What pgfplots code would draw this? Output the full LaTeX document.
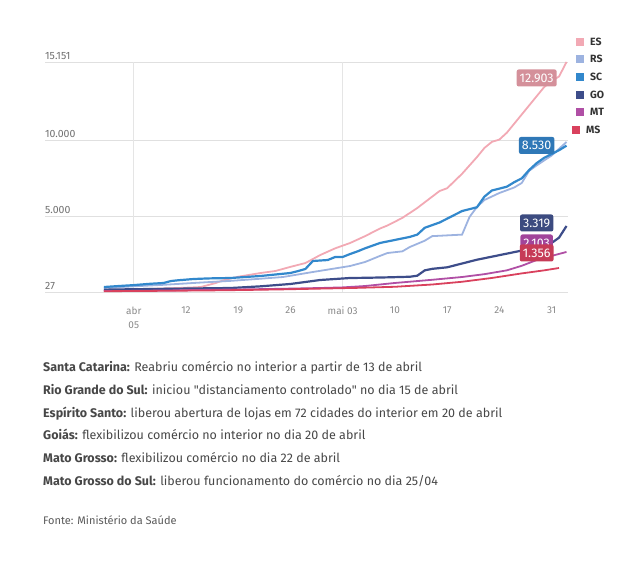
\documentclass[border=0pt]{standalone}
\usepackage{fontspec}
\setmainfont{Fira Sans}[Ligatures=TeXOff]
\usepackage{pgfplots}
\pgfplotsset{compat=1.18}
\definecolor{cES}{HTML}{F2A9B4}
\definecolor{cRS}{HTML}{9DB3E0}
\definecolor{cSC}{HTML}{3288CC}
\definecolor{cGO}{HTML}{3D4D8A}
\definecolor{cMT}{HTML}{B04FA5}
\definecolor{cMS}{HTML}{D9415D}
\definecolor{lES}{HTML}{D4909A}
\definecolor{lSC}{HTML}{2F78B7}
\definecolor{lGO}{HTML}{3C4B80}
\definecolor{lMT}{HTML}{A1449A}
\definecolor{lMS}{HTML}{C63B57}
\definecolor{txt}{HTML}{333333}
\definecolor{tick}{HTML}{8A8A8A}
\begin{document}
\begin{tikzpicture}
\path[use as bounding box] (0,0) rectangle (640pt,565pt);
\begin{axis}[
  at={(45pt,273pt)}, anchor=south west,
  scale only axis, width=523pt, height=230pt,
  xmin=-11.9, xmax=58.2, ymin=27, ymax=15151,
  axis line style={draw=none},
  major tick length=0pt,
  clip=false,
  scaled y ticks=false,
  ytick={27,5000,10000,15151},
  yticklabels={27,5.000,10.000,15.151},
  yticklabel style={anchor=south west, inner xsep=0pt, inner ysep=2.5pt, font=\fontsize{10.5}{12}\selectfont, text=tick!80!black},
  ymajorgrids,
  grid style={color=black!12, line width=0.8pt},
  xtick={0,7,14,21,28,35,42,49,56},
  xticklabels={{abr\\05},12,19,26,mai 03,10,17,24,31},
  xticklabel style={align=center, anchor=north, yshift=-11pt, font=\fontsize{10}{14}\selectfont, text=tick},
  extra x ticks={0,28},
  extra x tick labels={},
  extra x tick style={xmajorgrids=true, grid style={color=black!10, line width=0.8pt}},
]
% ES
\addplot[cES, line width=1.8pt] coordinates {
(-4,150) (-2,170) (0,200) (2,230) (4,260) (6,290) (8,330) (9,355) (11,620) (12,800) (14,1030) (17,1276) (19,1410) (21,1680) (23,1930) (25,2460) (27,2900) (29,3250) (31,3700) (33,4200) (34,4400) (36,4900) (38,5550) (40,6300) (41,6670) (42,6850) (44,7800) (46,8900) (47,9500) (48,9900) (49,10050) (50,10500) (51,11100) (52,11700) (53,12300) (54,12900) (55,13500) (56,13900) (57,14200) (58,15151)
};
% RS
\addplot[cRS, line width=1.8pt] coordinates {
(-4,290) (0,400) (4,500) (8,620) (13,760) (17,900) (20,1013) (24,1342) (29,1737) (31,2000) (33,2400) (34,2590) (36,2700) (37,2986) (39,3400) (40,3700) (43,3775) (44,3800) (45,4960) (46,5617) (47,6077) (49,6537) (51,6900) (52,7195) (53,8000) (54,8350) (56,9000) (58,9890)
};
% SC
\addplot[cSC, line width=2.2pt] coordinates {
(-4,355) (-2,420) (0,480) (2,560) (4,620) (5,750) (6,800) (8,880) (10,920) (13,948) (17,1080) (21,1276) (22,1400) (23,1540) (24,2065) (26,2130) (27,2330) (28,2330) (29,2526) (30,2700) (31,2900) (33,3250) (35,3450) (37,3650) (38,3800) (39,4250) (41,4600) (42,4850) (43,5100) (44,5350) (46,5600) (47,6300) (48,6700) (50,6950) (51,7250) (52,7500) (53,8050) (54,8500) (55,8850) (56,9100) (57,9350) (58,9650)
};
% GO
\addplot[cGO, line width=2.2pt] coordinates {
(-4,180) (0,210) (5,240) (13,290) (17,400) (21,555) (25,816) (29,948) (31,960) (34,990) (37,1030) (38,1100) (39,1450) (40,1550) (42,1650) (44,1900) (46,2150) (48,2350) (50,2550) (52,2750) (54,3000) (56,3250) (57,3600) (58,4367)
};
% MT
\addplot[cMT, line width=1.8pt] coordinates {
(-4,90) (0,100) (5,130) (10,170) (15,200) (20,240) (25,290) (28,330) (31,420) (35,620) (40,830) (44,1013) (47,1200) (50,1450) (52,1750) (54,2130) (56,2400) (58,2660)
};
% MS
\addplot[cMS, line width=1.8pt] coordinates {
(-4,80) (0,90) (5,110) (10,130) (15,160) (20,200) (26,260) (30,300) (35,370) (40,520) (44,700) (48,950) (52,1250) (55,1450) (57,1605)
};
\tikzset{vlab/.style={rounded corners=2pt, text=white, inner xsep=3pt, inner ysep=1.5pt, minimum height=17pt, font=\fontsize{12.5}{13}\selectfont}}
\node[vlab, fill=lES] at (axis cs:54,14100) {12.903};
\node[vlab, fill=lSC] at (axis cs:54,9661) {8.530};
\node[vlab, fill=lGO] at (axis cs:54,4565) {3.319};
\node[vlab, fill=lMT] at (axis cs:54,3249) {2.103};
\node[vlab, fill=lMS] at (axis cs:54,2592) {1.356};
\end{axis}
% legend
\tikzset{lgt/.style={anchor=west, inner sep=0pt, text=txt, font=\fontsize{10.5}{12}\selectfont\bfseries}}
\fill[cES] (576pt,519pt) rectangle (584pt,527pt); \node[lgt] at (590pt,523pt) {ES};
\fill[cRS] (576pt,502pt) rectangle (584pt,510pt); \node[lgt] at (590pt,506pt) {RS};
\fill[cSC] (576pt,484pt) rectangle (584pt,492pt); \node[lgt] at (590pt,488pt) {SC};
\fill[cGO] (576pt,466pt) rectangle (584pt,474pt); \node[lgt] at (590pt,470pt) {GO};
\fill[cMT] (576pt,449pt) rectangle (584pt,457pt); \node[lgt] at (590pt,453pt) {MT};
\fill[cMS] (572pt,431pt) rectangle (580pt,439pt); \node[lgt] at (586pt,435pt) {MS};
% notes
\tikzset{note/.style={anchor=base west, inner sep=0pt, text=txt!90!white, font=\fontsize{12.5}{14}\selectfont}}
\node[note] at (43pt,193.3pt) {\textbf{Santa Catarina:} Reabriu comércio no interior a partir de 13 de abril};
\node[note] at (43pt,170.6pt) {\textbf{Rio Grande do Sul:} iniciou "distanciamento controlado" no dia 15 de abril};
\node[note] at (43pt,147.9pt) {\textbf{Espírito Santo:} liberou abertura de lojas em 72 cidades do interior em 20 de abril};
\node[note] at (43pt,125.2pt) {\textbf{Goiás:} flexibilizou comércio no interior no dia 20 de abril};
\node[note] at (43pt,102.5pt) {\textbf{Mato Grosso:} flexibilizou comércio no dia 22 de abril};
\node[note] at (43pt,79.8pt) {\textbf{Mato Grosso do Sul:} liberou funcionamento do comércio no dia 25/04};
\node[anchor=base west, inner sep=0pt, text=black!65, font=\fontsize{11}{12}\selectfont] at (43pt,40pt) {Fonte: Ministério da Saúde};
\end{tikzpicture}
\end{document}
